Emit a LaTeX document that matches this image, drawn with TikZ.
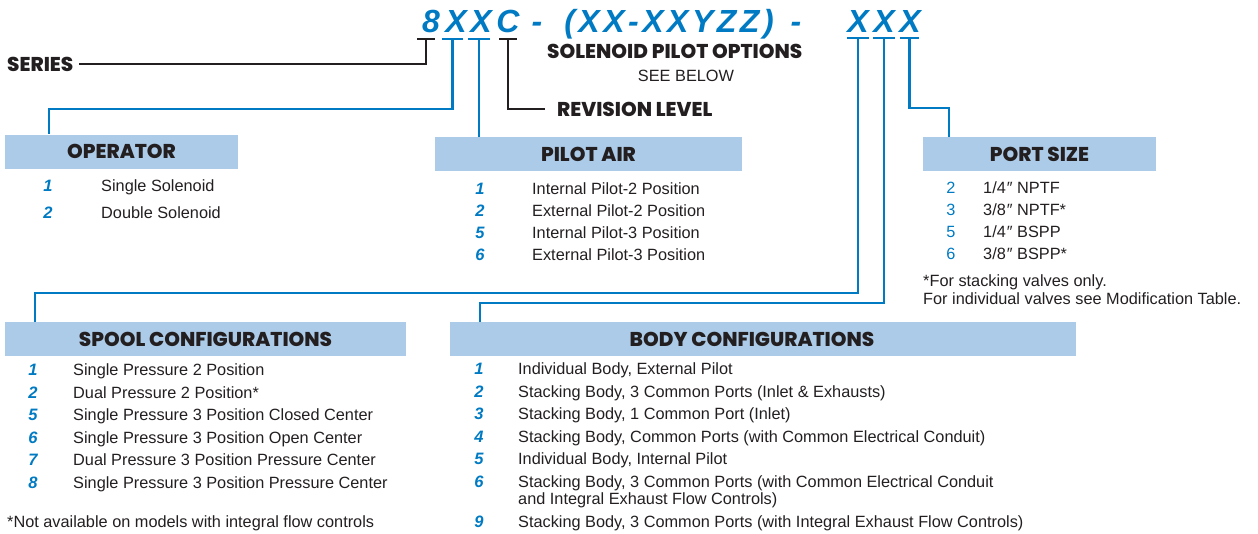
\documentclass[tikz,border=0pt]{standalone}
\usepackage{fontspec}
\setmainfont{Liberation Sans}
\newfontfamily\hdfont{Poppins ExtraBold}
\definecolor{bl}{RGB}{0,122,194}
\definecolor{boxc}{RGB}{172,203,232}
\definecolor{ink}{RGB}{35,31,32}
\begin{document}
\begin{tikzpicture}[x=1pt,y=-1pt,
  hd/.style={font=\hdfont\fontsize{20}{20}\selectfont, text=ink, inner sep=0pt},
  hbox/.style={fill=boxc, inner sep=0pt, minimum height=34pt, font=\hdfont\fontsize{20}{20}\selectfont, text=ink},
  item/.style={font=\fontsize{16.3}{16.3}\selectfont, text=ink, inner sep=0pt, anchor=base west},
  num/.style={font=\bfseries\itshape\fontsize{16.5}{16.5}\selectfont, text=bl, inner sep=0pt, anchor=base},
  pnum/.style={font=\fontsize{16.3}{16.3}\selectfont, text=bl, inner sep=0pt, anchor=base},
  code/.style={font=\bfseries\itshape\fontsize{32}{32}\selectfont, text=bl, inner sep=0pt, anchor=base},
  ubar/.style={inner sep=0pt, minimum height=2.6pt},
  bline/.style={draw=bl, line width=2.6pt, line join=miter},
  kline/.style={draw=ink, line width=2.6pt, line join=miter}
]
\useasboundingbox (0,0) rectangle (1258,533);

% code
\node[code] (c8) at (431,32) {8};
\node[code] (cx1) at (456,32) {X};
\node[code] (cx2) at (481,32) {X};
\node[code] (cc) at (508,32) {C};
\node[code] (cd1) at (537,32) {-};
\node[code,font=\bfseries\itshape\fontsize{32}{32}\selectfont\addfontfeature{LetterSpace=11}] (cmid) at (669,32) {(XX-XXYZZ)};
\node[code] (cd2) at (796,32) {-};
\node[code] (cx4) at (858,32) {X};
\node[code] (cx5) at (884,32) {X};
\node[code] (cx6) at (910,32) {X};

% underbars
\node[ubar, fill=ink, minimum width=18pt] (u8) at (426,39) {};
\node[ubar, fill=bl, minimum width=21pt] (ux1) at (452.5,39) {};
\node[ubar, fill=bl, minimum width=22pt] (ux2) at (479,39) {};
\node[ubar, fill=ink, minimum width=18pt] (uc) at (508,39) {};
\node[ubar, fill=bl, minimum width=22pt] (ux4) at (858,38) {};
\node[ubar, fill=bl, minimum width=22pt] (ux5) at (884,38) {};
\node[ubar, fill=bl, minimum width=19pt] (ux6) at (909.5,38) {};

% labels
\node[hd, anchor=west] (series) at (7,64) {SERIES};
\node[hd, anchor=west] (spo) at (547,51) {SOLENOID PILOT OPTIONS};
\node[font=\fontsize{16.3}{16.3}\selectfont, text=ink, inner sep=0pt] (see) at (686,76) {SEE BELOW};
\node[hd, anchor=west] (rev) at (557,109) {REVISION LEVEL};

% boxes
\node[hbox, minimum width=233pt] (op) at (121.5,151.5) {OPERATOR};
\node[hbox, minimum width=307pt] (pa) at (588.5,154) {PILOT AIR};
\node[hbox, minimum width=233pt] (ps) at (1039.5,154) {PORT SIZE};
\node[hbox, minimum width=401pt] (sp) at (205.5,339) {SPOOL CONFIGURATIONS};
\node[hbox, minimum width=626pt] (bd) at (763,339) {};
\node[hd] (bdt) at (752,339) {BODY CONFIGURATIONS};

% coordinates for bends
\coordinate (c1) at (49,109);
\coordinate (c4) at (35,293);
\coordinate (c5) at (480,303);
\coordinate (c6) at (949,108);

% connectors
\draw[kline] (u8.center) |- ([xshift=5pt]series.east);
\draw[bline] (ux1.center) |- (c1) -- (c1 |- op.north);
\draw[bline] (ux2.center) -- (ux2.center |- pa.north);
\draw[kline] (uc.center) |- ([xshift=-12pt]rev.west);
\draw[bline] (ux4.center) |- (c4) -- (c4 |- sp.north);
\draw[bline] (ux5.center) |- (c5) -- (c5 |- bd.north);
\draw[bline] (ux6.center) |- (c6) -- (c6 |- ps.north);

% operator items
\node[num] (o1n) at (48,191) {1};
\node[item] (o1) at (101,191) {Single Solenoid};
\node[num] (o2n) at (48,218) {2};
\node[item] (o2) at (101,218) {Double Solenoid};

% pilot air items
\node[num] (p1n) at (480,194) {1};
\node[item] (p1) at (532,194) {Internal Pilot-2 Position};
\node[num] (p2n) at (480,216) {2};
\node[item] (p2) at (532,216) {External Pilot-2 Position};
\node[num] (p3n) at (480,238) {5};
\node[item] (p3) at (532,238) {Internal Pilot-3 Position};
\node[num] (p4n) at (480,260) {6};
\node[item] (p4) at (532,260) {External Pilot-3 Position};

% port size items
\node[pnum] (s1n) at (951,193) {2};
\node[item] (s1) at (983,193) {1/4{\kern1pt}″ NPTF};
\node[pnum] (s2n) at (951,215) {3};
\node[item] (s2) at (983,215) {3/8{\kern1pt}″ NPTF*};
\node[pnum] (s3n) at (951,237) {5};
\node[item] (s3) at (983,237) {1/4{\kern1pt}″ BSPP};
\node[pnum] (s4n) at (951,259) {6};
\node[item] (s4) at (983,259) {3/8{\kern1pt}″ BSPP*};
\node[item] (sf1) at (923,286) {*For stacking valves only.};
\node[item] (sf2) at (923,304) {For individual valves see Modification Table.};

% spool items
\node[num] (q1n) at (33,375) {1};
\node[item] (q1) at (73,375) {Single Pressure 2 Position};
\node[num] (q2n) at (33,398) {2};
\node[item] (q2) at (73,398) {Dual Pressure 2 Position*};
\node[num] (q3n) at (33,420) {5};
\node[item] (q3) at (73,420) {Single Pressure 3 Position Closed Center};
\node[num] (q4n) at (33,443) {6};
\node[item] (q4) at (73,443) {Single Pressure 3 Position Open Center};
\node[num] (q5n) at (33,465) {7};
\node[item] (q5) at (73,465) {Dual Pressure 3 Position Pressure Center};
\node[num] (q6n) at (33,488) {8};
\node[item] (q6) at (73,488) {Single Pressure 3 Position Pressure Center};
\node[item] (qf) at (7,527) {*Not available on models with integral flow controls};

% body items
\node[num] (b1n) at (479,374) {1};
\node[item] (b1) at (518,374) {Individual Body, External Pilot};
\node[num] (b2n) at (479,397) {2};
\node[item] (b2) at (518,397) {Stacking Body, 3 Common Ports (Inlet \& Exhausts)};
\node[num] (b3n) at (479,419) {3};
\node[item] (b3) at (518,419) {Stacking Body, 1 Common Port (Inlet)};
\node[num] (b4n) at (479,442) {4};
\node[item] (b4) at (518,442) {Stacking Body, Common Ports (with Common Electrical Conduit)};
\node[num] (b5n) at (479,464) {5};
\node[item] (b5) at (518,464) {Individual Body, Internal Pilot};
\node[num] (b6n) at (479,487) {6};
\node[item] (b6) at (518,487) {Stacking Body, 3 Common Ports (with Common Electrical Conduit};
\node[item] (b6b) at (518,504) {and Integral Exhaust Flow Controls)};
\node[num] (b7n) at (479,527) {9};
\node[item] (b7) at (518,527) {Stacking Body, 3 Common Ports (with Integral Exhaust Flow Controls)};
\end{tikzpicture}
\end{document}
